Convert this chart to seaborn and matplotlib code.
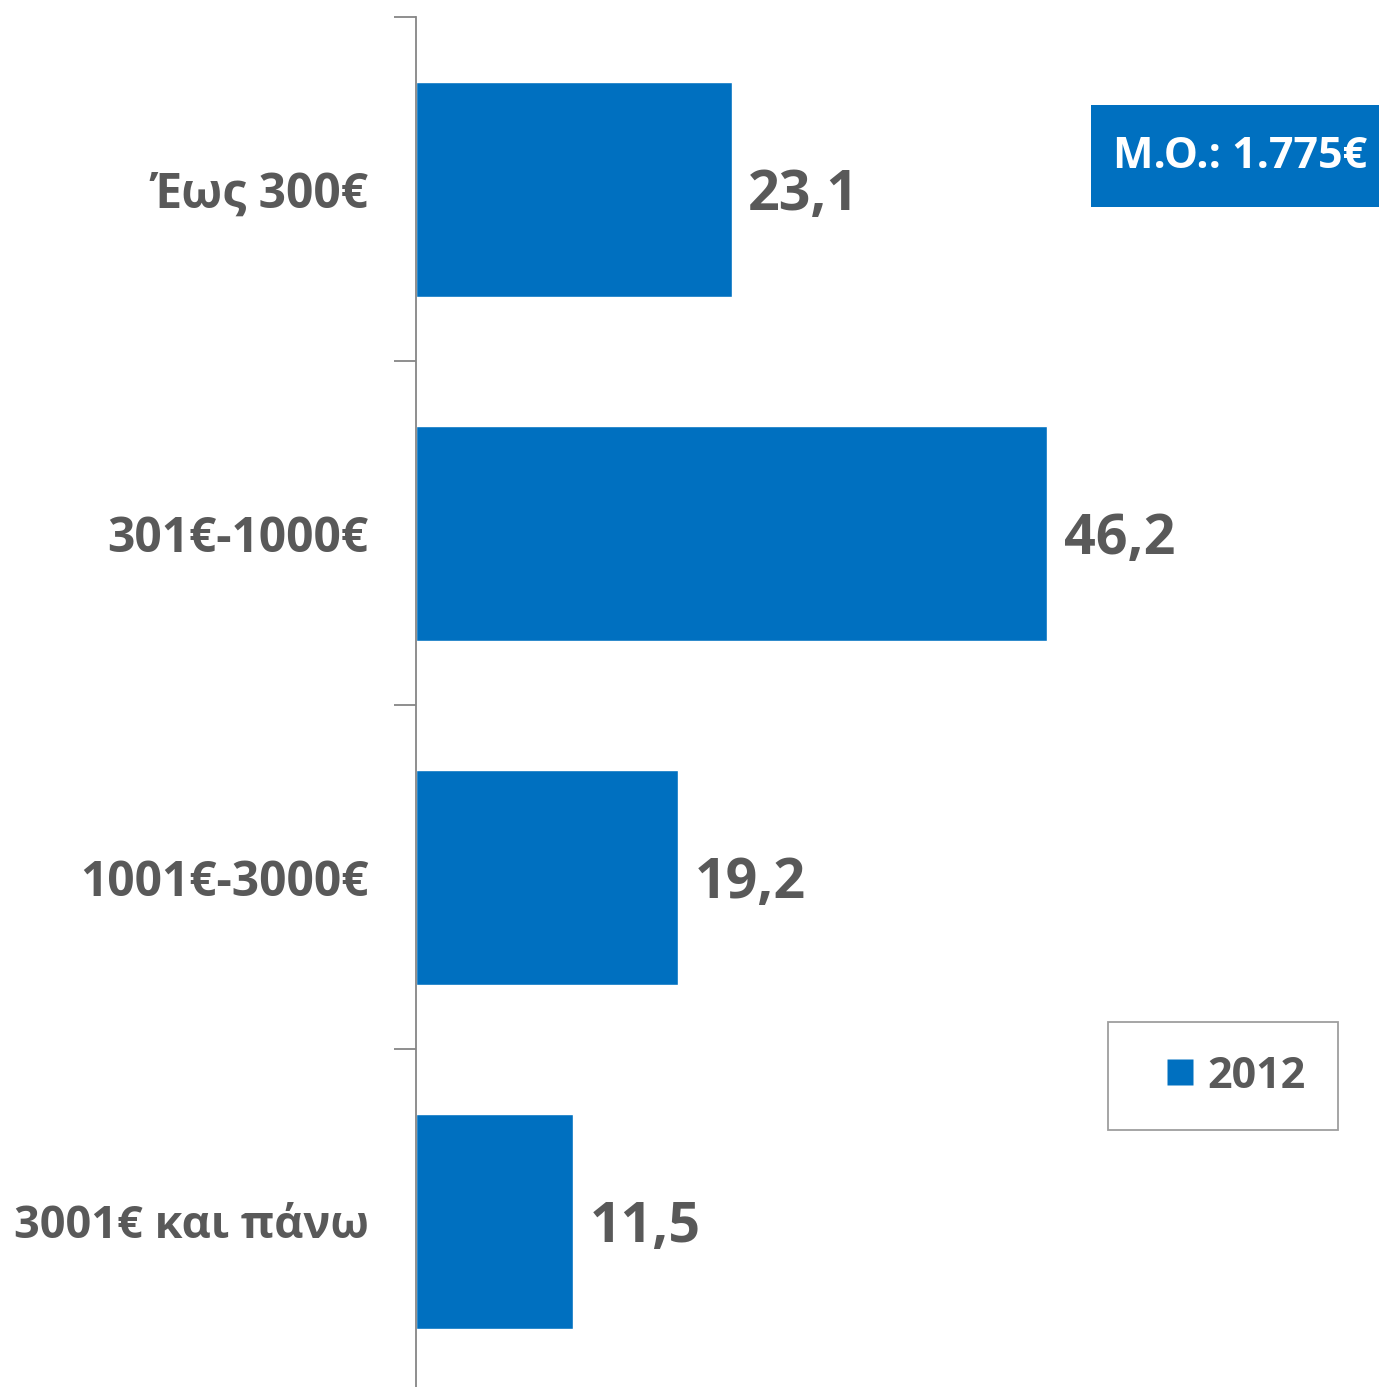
import matplotlib
matplotlib.use("Agg")
import matplotlib.pyplot as plt
from matplotlib.lines import Line2D
from matplotlib.patches import Rectangle
import pandas as pd
import seaborn as sns

CATEGORIES = ["Έως 300€", "301€-1000€", "1001€-3000€", "3001€ και πάνω"]
VALUES = [23.1, 46.2, 19.2, 11.5]
SERIES = "2012"
NOTE = "M.O.: 1.775€"

BLUE = "#0070C0"
TEXT = "#595959"
SPINE = "#868686"

sns.set_theme(style="white")
plt.rcParams["font.family"] = ["Open Sans", "DejaVu Sans"]
plt.rcParams["font.weight"] = "bold"

df = pd.DataFrame({"cat": CATEGORIES, "val": VALUES})

fig = plt.figure(figsize=(13.79, 13.87), dpi=100)
ax = fig.add_axes([416 / 1379, -6 / 1387, 1 - 416 / 1379, 1 - 11 / 1387])

sns.barplot(data=df, y="cat", x="val", orient="h", color=BLUE, saturation=1,
            width=0.625, ax=ax, order=CATEGORIES)

ax.set_xlim(0, 70.5)
ax.set_ylim(3.5, -0.5)
ax.set(xlabel="", ylabel="")
ax.set_xticks([])

# tick marks at slot boundaries, labels at slot centres
ax.set_yticks([-0.5, 0.5, 1.5, 2.5, 3.5])
ax.set_yticklabels([])
ax.tick_params(axis="y", which="major", left=True, length=16, width=1.3, color=SPINE, direction="out")
ax.set_yticks(range(len(CATEGORIES)), minor=True)
ticklabels = ax.set_yticklabels(CATEGORIES, minor=True, fontsize=34.5, fontweight="bold", color=TEXT)
ticklabels[-1].set_fontsize(32.5)
ax.tick_params(axis="y", which="minor", length=0, pad=34)

for side in ["top", "right", "bottom"]:
    ax.spines[side].set_visible(False)
ax.spines["left"].set_color(SPINE)
ax.spines["left"].set_linewidth(1.3)

for container in ax.containers:
    labels = ax.bar_label(container, labels=[f"{v:.1f}".replace(".", ",") for v in VALUES],
                          padding=12, fontsize=40, fontweight="bold", color=TEXT)
    for t in labels:
        t.xyann = (12, -5)

# mean value box
fig.patches.append(Rectangle((1091 / 1379, 1 - 207 / 1387), (1379 - 1091) / 1379, 102 / 1387,
                             transform=fig.transFigure, facecolor=BLUE, edgecolor="none"))
fig.text(1240 / 1379, 1 - 156 / 1387, NOTE, ha="center", va="center",
         fontsize=31, fontweight="bold", color="white")

handle = Line2D([], [], linestyle="none", marker="s", markersize=18.5,
                markerfacecolor=BLUE, markeredgecolor="none", label=SERIES)
leg = ax.legend(handles=[handle],
                loc="center", bbox_to_anchor=(1223 / 1379, 1 - 1076 / 1387),
                bbox_transform=fig.transFigure, fontsize=31, frameon=True, fancybox=False,
                borderpad=0.75, handlelength=1.86, handletextpad=-0.3,
                borderaxespad=0)
leg.get_frame().set_edgecolor(SPINE)
leg.get_frame().set_linewidth(1.3)
for t in leg.get_texts():
    t.set_color(TEXT)
    t.set_fontweight("bold")

fig.savefig("out.png", dpi=100, facecolor="white")
